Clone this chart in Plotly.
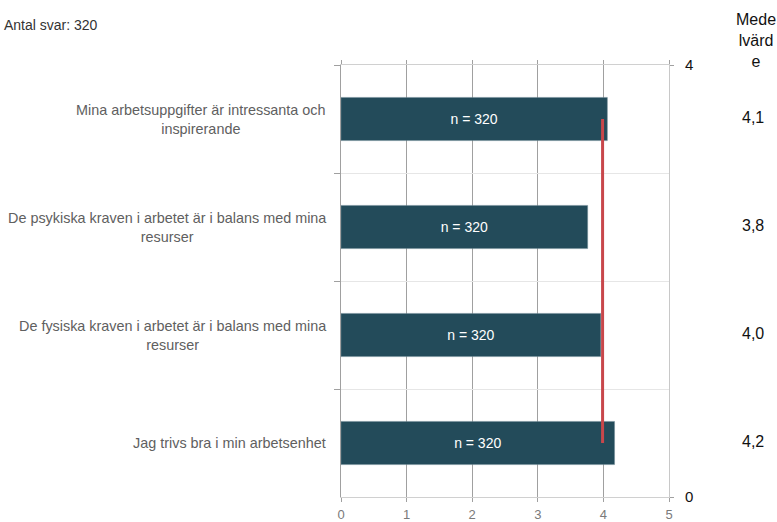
import plotly.graph_objects as go

categories = [
    "Mina arbetsuppgifter är intressanta och<br>inspirerande",
    "De psykiska kraven i arbetet är i balans med mina<br>resurser",
    "De fysiska kraven i arbetet är i balans med mina<br>resurser",
    "Jag trivs bra i min arbetsenhet",
]
cat_keys = ["q1", "q2", "q3", "q4"]
values = [4.06, 3.76, 3.96, 4.17]
n_answers = [320, 320, 320, 320]
total_answers = 320
x_ticks = [0, 1, 2, 3, 4, 5]
right_ticks = [0, 4]

mean_all = sum(values) / len(values)

FONT = "Liberation Sans, Arial, sans-serif"
BAR = "#234b5a"
RED = "#c8474b"

W, H = 777, 522
ML, MR, MT, MB = 341, 108, 65, 25
PW, PH = W - ML - MR, H - MT - MB


def px_x(px):
    return (px - ML) / PW


def px_y(py):
    return (H - MB - py) / PH


fig = go.Figure()
fig.add_trace(go.Bar(
    x=values, y=cat_keys, orientation="h",
    marker=dict(color=BAR, line=dict(color="#6f8a94", width=0.5)),
    width=0.4,
    text=[f"n = {n}" for n in n_answers],
    textposition="inside", insidetextanchor="middle",
    textfont=dict(color="white", size=14, family=FONT),
    hoverinfo="skip", showlegend=False,
))
fig.add_trace(go.Scatter(
    x=[mean_all, mean_all], y=[cat_keys[0], cat_keys[-1]],
    mode="lines", line=dict(color=RED, width=3),
    hoverinfo="skip", showlegend=False,
))
fig.add_trace(go.Scatter(
    x=[None], y=[None], yaxis="y2", mode="markers",
    showlegend=False, hoverinfo="skip",
))

annotations = []
for key, lab in zip(cat_keys, categories):
    annotations.append(dict(
        x=0, xref="paper", y=key, yref="y", xanchor="right", yanchor="middle",
        xshift=-13, text=lab, showarrow=False, align="center",
        font=dict(size=14.4, color="#606060", family=FONT),
    ))
for key, v in zip(cat_keys, values):
    annotations.append(dict(
        x=px_x(753), xref="paper", y=key, yref="y", xanchor="center", yanchor="middle",
        yshift=2, text=f"{v:.1f}".replace(".", ","), showarrow=False,
        font=dict(size=16, color="#111111", family=FONT),
    ))
annotations.append(dict(
    x=px_x(2), y=px_y(15), xref="paper", yref="paper", showarrow=False,
    xanchor="left", yanchor="top", text=f"Antal svar: {total_answers}",
    font=dict(size=14, color="#333333", family=FONT),
))
annotations.append(dict(
    x=px_x(756), y=px_y(9), xref="paper", yref="paper", showarrow=False,
    xanchor="center", yanchor="top", text="Mede<br>lvärd<br>e", align="center",
    font=dict(size=16, color="#111111", family=FONT),
))

fig.update_layout(
    width=W, height=H,
    margin=dict(l=ML, r=MR, t=MT, b=MB, autoexpand=False),
    paper_bgcolor="white", plot_bgcolor="white",
    font=dict(family=FONT),
    xaxis=dict(
        range=[0, 5], tickvals=x_ticks, showgrid=True, gridcolor="#a0a0a0", gridwidth=1,
        zeroline=False, showline=True, linecolor="#d0d0d0", mirror="ticks",
        ticks="outside", ticklen=4, tickcolor="#a0a0a0", automargin=False,
        ticklabelstandoff=1,
        tickfont=dict(size=13, color="#7a7a7a", family=FONT),
    ),
    yaxis=dict(
        type="category", categoryarray=cat_keys, range=[3.5, -0.5],
        tickson="boundaries", showticklabels=False, showgrid=True,
        gridcolor="#e6e6e6", ticks="outside", ticklen=6, tickcolor="#a0a0a0",
        showline=True, linecolor="#a0a0a0", zeroline=False, automargin=False,
    ),
    yaxis2=dict(
        overlaying="y", side="right", range=[0, 4], tickvals=right_ticks,
        showgrid=False, zeroline=False, showline=True, linecolor="#c8c8c8",
        ticks="outside", ticklen=4, tickcolor="#a0a0a0", automargin=False,
        ticklabelstandoff=8,
        tickfont=dict(size=15, color="#111111", family=FONT),
    ),
    annotations=annotations,
)

fig.write_html("out.html")
